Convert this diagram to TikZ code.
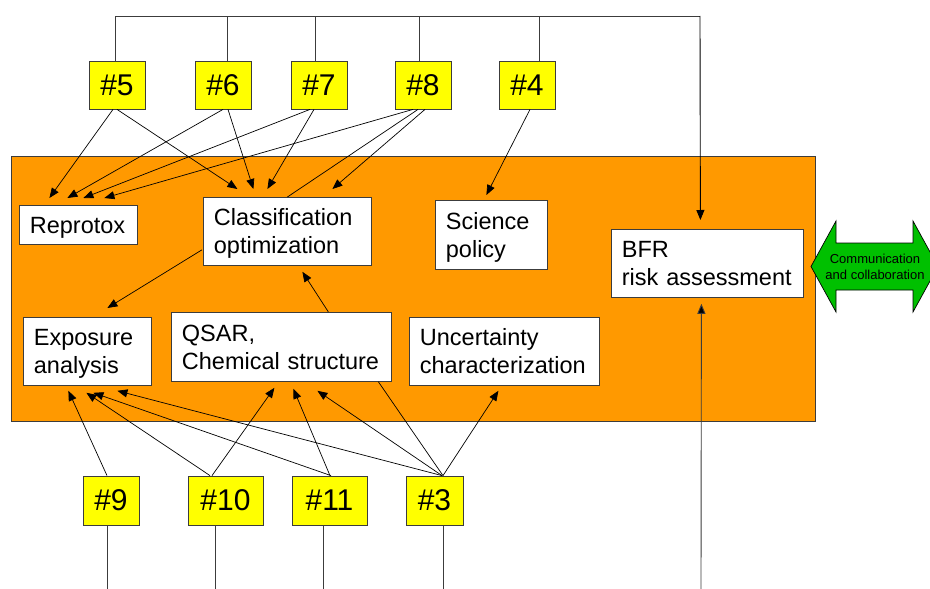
\documentclass[tikz,border=0pt]{standalone}
\usepackage{fontspec}
\setmainfont{Liberation Sans}
\usetikzlibrary{arrows.meta,calc}

\definecolor{panel}{RGB}{255,153,0}
\definecolor{tagfill}{RGB}{255,255,0}
\definecolor{talkfill}{RGB}{0,192,0}
\definecolor{rim}{RGB}{60,60,60}

\begin{document}
\begin{tikzpicture}[x=1pt,y=-1pt,
  every node/.style={font=\fontsize{23.5}{28}\selectfont},
  tagbox/.style={draw=rim, line width=0.8pt, fill=tagfill, minimum width=56pt,
    minimum height=48pt, inner sep=0pt, font=\fontsize{30}{36}\selectfont},
  textbox/.style={draw=rim, line width=0.8pt, fill=white, inner xsep=10.5pt,
    inner ysep=0pt, align=left, anchor=north west, text height=18pt, text depth=1.5pt},
  twoline/.style={text depth=29.5pt},
  link/.style={-{Triangle[length=10pt,width=8pt]}, line width=0.7pt, black},
  plain/.style={line width=0.7pt, black},
  feed/.style={draw=rim, line width=0.9pt},
]
\useasboundingbox (0,0) rectangle (930,589);

% orange working area
\draw[rim, line width=0.8pt, fill=panel] (11,156) rectangle (815,421);

% activity boxes
\node[textbox, text width=97pt,  minimum height=39pt] (rep)  at (19,205)  {Reprotox};
\node[textbox, twoline, text width=147pt, minimum height=68pt] (cls)  at (203,197) {Classification\\optimization};
\node[textbox, twoline, text width=91pt,  minimum height=69pt] (sci)  at (435,200) {Science\\policy};
\node[textbox, twoline, text width=171pt, minimum height=68pt] (bfr)  at (611,229) {BFR\\\mbox{risk assessment}};
\node[textbox, twoline, text width=107pt, minimum height=68pt] (exp)  at (23,317)  {Exposure\\analysis};
\node[textbox, twoline, text width=199pt, minimum height=69pt] (qsar) at (171,312) {QSAR,\\\mbox{Chemical structure}};
\node[textbox, twoline, text width=169pt, minimum height=68pt] (unc)  at (409,317) {Uncertainty\\characterization};

% numbered tags, upper row
\node[tagbox] (t5) at (117,85) {\#5};
\node[tagbox] (t6) at (223,85) {\#6};
\node[tagbox] (t7) at (319,85) {\#7};
\node[tagbox] (t8) at (423,85) {\#8};
\node[tagbox] (t4) at (527,85) {\#4};

% numbered tags, lower row
\node[tagbox, minimum height=49pt] (t9)  at (111,500.5)   {\#9};
\node[tagbox, minimum height=49pt, minimum width=75pt] (t10) at (225.5,500.5) {\#10};
\node[tagbox, minimum height=49pt, minimum width=75pt] (t11) at (329.5,500.5) {\#11};
\node[tagbox, minimum height=49pt, minimum width=57pt] (t3)  at (434.5,500.5) {\#3};

% communication double arrow
\draw[black, line width=0.7pt, fill=talkfill]
  (811,266.5) -- (836,221) -- (836,243) -- (913,243) -- (913,221) -- (938,266.5)
  -- (913,312) -- (913,290) -- (836,290) -- (836,312) -- cycle;
\node[font=\fontsize{13}{16}\selectfont, align=center, inner sep=0pt] (talk) at (875,267)
  {Communication\\and collaboration};

% feedback bus along the top into the risk assessment
\coordinate (busR) at (700,16);
\draw[feed] ($(t5.north)+(-2,0)$) |- (busR);
\draw[feed] ($(t6.north)+(4,0)$)  -- ++(0,-45);
\draw[feed] ($(t7.north)+(-4,0)$) -- ++(0,-45);
\draw[feed] ($(t8.north)+(-4,0)$) -- ++(0,-45);
\draw[feed] ($(t4.north)+(12,0)$) -- ++(0,-45);
\draw[feed, -{Triangle[length=10pt,width=8pt]}, black] (busR) -- ($(bfr.north)+(-7,-9)$);

% feed from below into the risk assessment
\coordinate (bfrin) at (701,589);
\draw[feed, -{Triangle[length=10pt,width=8pt,fill=black]}] (bfrin) -- ($(bfr.south)+(-6,6)$);

% lower tags: lines running off the bottom
\draw[feed] ($(t9.south)+(-4,0)$)    -- ++(0,64);
\draw[feed] ($(t10.south)+(-10.5,0)$) -- ++(0,64);
\draw[feed] ($(t11.south)+(-6.5,0)$)  -- ++(0,64);
\draw[feed] ($(t3.south)+(8.5,0)$)    -- ++(0,64);

% upper tags into the boxes
\draw[link] ($(t5.south)+(-4,0)$)  -- ($(rep.north)+(-29,-7)$);
\draw[link] (t5.south)             -- ($(cls.north)+(-50,-8)$);
\draw[link] (t6.south)             -- ($(rep.north)+(-11,-7)$);
\draw[link] ($(t6.south)+(5,0)$)   -- ($(cls.north)+(-34,-8)$);
\draw[link] ($(t7.south)+(-9,0)$)  -- ($(rep.north)+(5,-7)$);
\draw[link] ($(t7.south)+(-5,0)$)  -- ($(cls.north)+(-20,-8)$);
\draw[link] ($(t8.south)+(-10,0)$) -- ($(rep.north)+(26,-7)$);
\draw[link] ($(t8.south)+(2,0)$)   -- ($(cls.north)+(45,-8)$);
\draw[plain] (cls.north)           -- ($(t8.south)+(-5,0)$);
\draw[link] ($(t4.south)+(3,0)$)   -- ($(sci.north)+(-5,-5)$);

% links between boxes
\draw[link] ($(cls.south west)+(-1,-16)$) -- ($(exp.north)+(20,-9)$);
\draw[link] ($(qsar.north)+(47,0)$)        -- ($(cls.south)+(15,6)$);

% lower tags into the boxes
\draw[link] ($(t9.north)+(-4,0)$)      -- ($(exp.south)+(-19,5)$);
\draw[link] ($(t10.north)+(-15.5,0)$)  -- ($(exp.south)+(-1,7)$);
\draw[link] ($(t10.north)+(-13.5,0)$)  -- ($(qsar.south)+(-7,6)$);
\draw[link] ($(t11.north)+(1.5,0)$)    -- ($(exp.south)+(6,7)$);
\draw[link] ($(t11.north)+(0.5,0)$)    -- ($(qsar.south)+(12,7)$);
\draw[link] ($(t3.north)+(7.5,0)$)     -- ($(exp.south)+(30,5)$);
\draw[link] ($(t3.north)+(7.5,0)$)     -- ($(qsar.south)+(36,9)$);
\draw[link] ($(t3.north)+(8.5,0)$)     -- ($(unc.south)+(-6,5)$);
\draw[plain] ($(qsar.south)+(97,0)$)   -- ($(t3.north)+(8.5,0)$);
\end{tikzpicture}
\end{document}
